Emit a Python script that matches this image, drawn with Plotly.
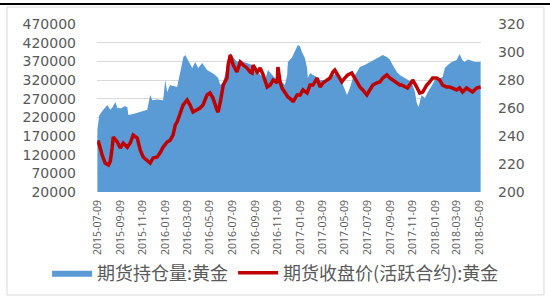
import plotly.graph_objects as go

# ---- data ----
oi_dates = [
    "2015-07-09", "2015-07-14", "2015-07-25", "2015-08-05", "2015-08-13", "2015-08-18", "2015-08-27",
    "2015-09-01", "2015-09-12", "2015-09-20", "2015-09-28", "2015-10-01", "2015-10-14", "2015-10-25",
    "2015-11-02", "2015-11-13", "2015-11-21", "2015-11-29", "2015-12-05", "2015-12-18", "2016-01-03",
    "2016-01-09", "2016-01-14", "2016-01-22", "2016-02-10", "2016-02-18", "2016-02-27", "2016-03-03",
    "2016-03-11", "2016-03-22", "2016-03-30", "2016-04-07", "2016-04-18", "2016-05-01", "2016-05-15",
    "2016-05-23", "2016-05-31", "2016-06-06", "2016-06-14", "2016-06-24", "2016-07-03", "2016-07-11",
    "2016-07-21", "2016-07-30", "2016-08-07", "2016-08-17", "2016-08-31", "2016-09-16", "2016-09-27",
    "2016-10-05", "2016-10-13", "2016-10-24", "2016-11-01", "2016-11-20", "2016-11-28", "2016-12-04",
    "2016-12-06", "2016-12-17", "2016-12-25", "2017-01-02", "2017-01-08", "2017-01-13", "2017-01-21",
    "2017-01-27", "2017-01-29", "2017-02-04", "2017-02-12", "2017-02-23", "2017-03-03", "2017-03-16",
    "2017-03-30", "2017-04-18", "2017-05-01", "2017-05-09", "2017-05-15", "2017-05-23", "2017-05-31",
    "2017-06-11", "2017-06-19", "2017-07-02", "2017-07-16", "2017-08-04", "2017-08-20", "2017-08-31",
    "2017-09-08", "2017-09-16", "2017-09-27", "2017-10-05", "2017-10-18", "2017-10-28", "2017-11-06",
    "2017-11-15", "2017-11-20", "2017-11-25", "2017-11-28", "2017-12-03", "2017-12-12", "2017-12-20",
    "2017-12-31", "2018-01-08", "2018-01-21", "2018-01-29", "2018-02-04", "2018-02-12", "2018-02-23",
    "2018-03-08", "2018-03-16", "2018-03-24", "2018-03-30", "2018-04-07", "2018-04-12", "2018-04-26",
    "2018-05-12",
]
oi_values = [
    186000, 225000, 240000, 253000, 240000, 246000, 261000,
    245000, 244000, 250000, 248000, 226000, 229000, 232000,
    234000, 236000, 240000, 280000, 266000, 268000, 266000,
    320000, 288000, 306600, 301000, 339000, 381600, 387000,
    373600, 352000, 368000, 352000, 365500, 346800, 338700,
    333400, 325400, 306600, 314600, 352000, 392300, 381600,
    368000, 373600, 368000, 365500, 360200, 341400, 328000,
    320000, 346800, 335000, 325400, 314600, 306600, 333400,
    368000, 380000, 395000, 413800, 410000, 395000, 379000,
    352000, 325400, 338700, 333400, 328000, 320000, 320000,
    328000, 338700, 314600, 293200, 279800, 298600, 325400,
    341400, 354800, 360000, 368000, 379000, 387000, 381600,
    375000, 360200, 341400, 333400, 325400, 318000, 314600,
    288000, 258400, 248000, 262000, 280000, 271800, 288000,
    305000, 320000, 325000, 328000, 352000, 360000, 368000,
    373600, 389600, 372000, 368000, 375000, 373600, 368000,
    368000,
]

px_dates = [
    "2015-07-09", "2015-07-12", "2015-07-22", "2015-07-30", "2015-08-08", "2015-08-13", "2015-08-18",
    "2015-08-21", "2015-09-01", "2015-09-09", "2015-09-17", "2015-09-28", "2015-10-06", "2015-10-14",
    "2015-10-25", "2015-11-02", "2015-11-10", "2015-11-21", "2015-11-29", "2015-12-07", "2015-12-18",
    "2015-12-26", "2016-01-03", "2016-01-14", "2016-01-22", "2016-01-30", "2016-02-05", "2016-02-10",
    "2016-02-18", "2016-02-26", "2016-03-08", "2016-03-16", "2016-03-24", "2016-04-04", "2016-04-12",
    "2016-04-20", "2016-05-01", "2016-05-09", "2016-05-17", "2016-05-28", "2016-05-31", "2016-06-06",
    "2016-06-14", "2016-06-24", "2016-06-27", "2016-07-03", "2016-07-11", "2016-07-21", "2016-07-30",
    "2016-08-07", "2016-08-17", "2016-08-26", "2016-08-31", "2016-09-03", "2016-09-14", "2016-09-22",
    "2016-09-30", "2016-10-11", "2016-10-19", "2016-10-27", "2016-11-07", "2016-11-09", "2016-11-15",
    "2016-11-20", "2016-11-28", "2016-12-06", "2016-12-17", "2016-12-20", "2016-12-31", "2017-01-08",
    "2017-01-16", "2017-01-27", "2017-02-04", "2017-02-12", "2017-02-23", "2017-03-03", "2017-03-11",
    "2017-03-22", "2017-03-30", "2017-04-07", "2017-04-12", "2017-04-20", "2017-05-01", "2017-05-09",
    "2017-05-17", "2017-05-28", "2017-05-31", "2017-06-11", "2017-06-19", "2017-06-27", "2017-07-08",
    "2017-07-16", "2017-07-24", "2017-08-04", "2017-08-12", "2017-08-20", "2017-08-31", "2017-09-08",
    "2017-09-16", "2017-09-27", "2017-10-05", "2017-10-10", "2017-10-18", "2017-10-26", "2017-11-06",
    "2017-11-09", "2017-11-20", "2017-11-28", "2017-12-06", "2017-12-17", "2017-12-25", "2018-01-02",
    "2018-01-13", "2018-01-21", "2018-01-29", "2018-02-09", "2018-02-17", "2018-02-25", "2018-03-08",
    "2018-03-16", "2018-03-24", "2018-04-04", "2018-04-12", "2018-04-20", "2018-05-01", "2018-05-12",
]
px_values = [
    235.7, 235.7, 226.4, 220.7, 219.3, 222.0, 231.4,
    239.3, 235.7, 231.4, 235.0, 232.0, 235.0, 240.7,
    238.6, 230.0, 225.0, 222.9, 220.7, 224.3, 225.0,
    228.0, 232.0, 235.7, 237.0, 240.7, 247.9, 250.0,
    257.1, 262.1, 265.7, 262.1, 257.1, 258.6, 260.0,
    262.1, 269.3, 270.7, 267.1, 258.6, 257.1, 264.3,
    276.4, 281.4, 290.7, 297.9, 290.7, 285.7, 292.9,
    290.7, 288.6, 285.7, 285.0, 290.7, 285.7, 288.6,
    283.6, 275.0, 276.4, 280.0, 277.9, 289.3, 278.6,
    274.3, 271.4, 267.9, 265.7, 264.3, 269.3, 269.3,
    272.9, 270.7, 276.4, 276.4, 281.4, 275.0, 277.9,
    280.0, 281.4, 285.7, 287.1, 283.6, 278.6, 281.4,
    283.6, 285.0, 283.6, 278.6, 275.0, 272.9, 269.3,
    272.9, 276.4, 277.9, 278.6, 281.4, 283.6, 281.4,
    280.0, 277.9, 276.4, 276.4, 275.0, 274.3, 278.6,
    280.0, 275.0, 270.7, 271.4, 276.4, 278.6, 281.4,
    281.4, 280.0, 276.4, 275.0, 275.0, 274.3, 272.9,
    274.3, 271.4, 274.3, 272.9, 271.4, 274.3, 275.0,
]

tick_dates = [
    "2015-07-09", "2015-09-09", "2015-11-09", "2016-01-09", "2016-03-09", "2016-05-09",
    "2016-07-09", "2016-09-09", "2016-11-09", "2017-01-09", "2017-03-09", "2017-05-09",
    "2017-07-09", "2017-09-09", "2017-11-09", "2018-01-09", "2018-03-09", "2018-05-09",
]
left_ticks = [20000, 70000, 120000, 170000, 220000, 270000, 320000, 370000, 420000, 470000]
right_ticks = [200, 220, 240, 260, 280, 300, 320]

name_oi = "期货持仓量:黄金"
name_px = "期货收盘价(活跃合约):黄金"

GRAY = "#595959"
num_font = dict(family="DejaVu Sans", size=14, color=GRAY)

fig = go.Figure()
fig.add_trace(go.Scatter(
    x=oi_dates, y=oi_values, name=name_oi, mode="lines",
    line=dict(width=0, color="#5b9bd5"), fill="tozeroy", fillcolor="#5b9bd5",
    yaxis="y",
))
fig.add_trace(go.Scatter(
    x=px_dates, y=px_values, name=name_px, mode="lines",
    line=dict(width=3.5, color="#c00000"), yaxis="y2",
))

fig.update_layout(
    width=550, height=300,
    margin=dict(l=97, r=69, t=24, b=108, autoexpand=False),
    paper_bgcolor="white", plot_bgcolor="white",
    showlegend=True,
    legend=dict(
        orientation="h", xref="paper", yref="paper",
        x=-0.13, xanchor="left", y=-0.482, yanchor="middle",
        font=dict(family="Noto Sans CJK SC", size=18, color=GRAY),
        itemwidth=40, bgcolor="rgba(0,0,0,0)",
    ),
    xaxis=dict(
        type="date", range=["2015-07-08", "2018-05-13"],
        tickvals=tick_dates, ticktext=tick_dates, tickangle=-90,
        tickfont=dict(family="Open Sans", size=10.5, color=GRAY),
        showgrid=False, showline=False, ticks="", ticklabelstandoff=5,
    ),
    yaxis=dict(
        range=[20000, 470000], tickvals=left_ticks,
        ticktext=[str(v) for v in left_ticks],
        tickfont=num_font, showgrid=True, gridcolor="#d9d9d9", gridwidth=1,
        zeroline=False, showline=False, ticks="", ticklabelstandoff=20,
    ),
    yaxis2=dict(
        range=[200, 320], tickvals=right_ticks,
        ticktext=[str(v) for v in right_ticks],
        overlaying="y", side="right", tickfont=num_font,
        showgrid=False, zeroline=False, showline=False, ticks="", ticklabelstandoff=16,
    ),
    shapes=[
        dict(type="rect", xref="paper", yref="paper", x0=-0.2344, x1=1.164, y0=-0.613, y1=1.101,
             line=dict(color="#d9d9d9", width=1), fillcolor="rgba(0,0,0,0)", layer="below"),
        dict(type="line", xref="paper", yref="paper", x0=-0.2526, x1=1.1797, y0=1.119, y1=1.119,
             line=dict(color="black", width=2)),
    ],
)

fig.write_html("out.html")
